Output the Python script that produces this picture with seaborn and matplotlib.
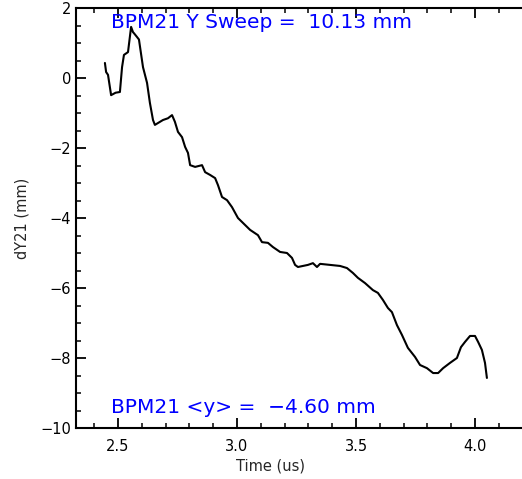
import numpy as np
import pandas as pd
import matplotlib
matplotlib.use("Agg")
import matplotlib.pyplot as plt
from matplotlib.ticker import MultipleLocator, FormatStrFormatter
import seaborn as sns

time_us = [2.445, 2.450, 2.458, 2.471, 2.490, 2.508, 2.517, 2.525, 2.542, 2.555,
           2.563, 2.567, 2.580, 2.588, 2.605, 2.622, 2.634, 2.647, 2.655, 2.689,
           2.710, 2.727, 2.739, 2.752, 2.769, 2.782, 2.794, 2.803, 2.824, 2.853,
           2.866, 2.887, 2.908, 2.920, 2.937, 2.958, 2.979, 3.004, 3.034, 3.055,
           3.088, 3.105, 3.130, 3.151, 3.181, 3.210, 3.231, 3.244, 3.256, 3.298,
           3.319, 3.336, 3.349, 3.391, 3.433, 3.462, 3.487, 3.508, 3.538, 3.571,
           3.592, 3.613, 3.634, 3.651, 3.672, 3.693, 3.718, 3.748, 3.769, 3.798,
           3.824, 3.845, 3.866, 3.895, 3.924, 3.941, 3.958, 3.979, 4.000, 4.013,
           4.029, 4.042, 4.050]
dy21_mm = [0.43, 0.17, 0.09, -0.49, -0.42, -0.40, 0.31, 0.66, 0.74, 1.46,
           1.31, 1.28, 1.17, 1.10, 0.31, -0.14, -0.71, -1.20, -1.34, -1.20,
           -1.15, -1.06, -1.25, -1.54, -1.69, -1.97, -2.14, -2.49, -2.54, -2.49,
           -2.69, -2.77, -2.86, -3.06, -3.40, -3.49, -3.69, -4.00, -4.20, -4.34,
           -4.49, -4.69, -4.71, -4.83, -4.97, -5.00, -5.14, -5.34, -5.40, -5.34,
           -5.29, -5.40, -5.31, -5.34, -5.37, -5.43, -5.57, -5.71, -5.86, -6.06,
           -6.14, -6.34, -6.57, -6.69, -7.06, -7.34, -7.71, -7.97, -8.20, -8.29,
           -8.43, -8.43, -8.29, -8.14, -8.00, -7.69, -7.54, -7.37, -7.37, -7.54,
           -7.77, -8.14, -8.57]

top_text = "BPM21 Y Sweep =  10.13 mm"
bottom_text = "BPM21 <y> =  \u22124.60 mm"
x_label = "Time (us)"
y_label = "dY21 (mm)"

sns.set_style("ticks")
plt.rcParams['font.family'] = ['DejaVu Sans']

W, H = 522, 479
fig = plt.figure(figsize=(W / 100, H / 100), dpi=100)
x0, x1 = 2.3235, 4.2
ppu_x = 238.0
left_px, top_px, bot_px = 76, 8, 428
ax_w_px = (x1 - x0) * ppu_x
ax = fig.add_axes([left_px / W, (H - bot_px) / H,
                   ax_w_px / W, (bot_px - top_px) / H])

df = pd.DataFrame({"t": time_us, "y": dy21_mm})
sns.lineplot(data=df, x="t", y="y", ax=ax, color="black", linewidth=1.5,
             sort=False, estimator=None)

ax.set_xlim(x0, x1)
ax.set_ylim(-10, 2)
ax.xaxis.set_major_locator(MultipleLocator(0.5))
ax.xaxis.set_minor_locator(MultipleLocator(0.1))
ax.yaxis.set_major_locator(MultipleLocator(2))
ax.yaxis.set_minor_locator(MultipleLocator(0.5))
ax.xaxis.set_major_formatter(FormatStrFormatter('%.1f'))
ax.tick_params(which='major', direction='in', length=7, width=1.3,
               top=True, right=False, labelsize=10.5, colors='black')
ax.tick_params(which='minor', direction='in', length=3.5, width=1.3,
               top=True, right=False)
ax.tick_params(axis='x', which='major', pad=8)
ax.tick_params(axis='y', which='major', pad=3.5)
for s in ax.spines.values():
    s.set_linewidth(1.5)
    s.set_color('black')
ax.spines['right'].set_visible(False)

ax.set_xlabel(x_label, fontsize=10.5)
ax.set_ylabel(y_label, fontsize=10.5)
ax.xaxis.set_label_coords((270 - left_px) / ax_w_px, -38 / (bot_px - top_px))
ax.yaxis.set_label_coords((22 - left_px) / ax_w_px, 0.5)
ax.xaxis.label.set_va('center')
ax.yaxis.label.set_va('center')

fig.text(111 / W, 1 - 28 / H, top_text, color='#0000ff', fontsize=14.5,
         va='baseline', ha='left')
fig.text(111 / W, 1 - 413 / H, bottom_text, color='#0000ff', fontsize=14.5,
         va='baseline', ha='left')

fig.savefig("out.png", dpi=100, facecolor='white')
